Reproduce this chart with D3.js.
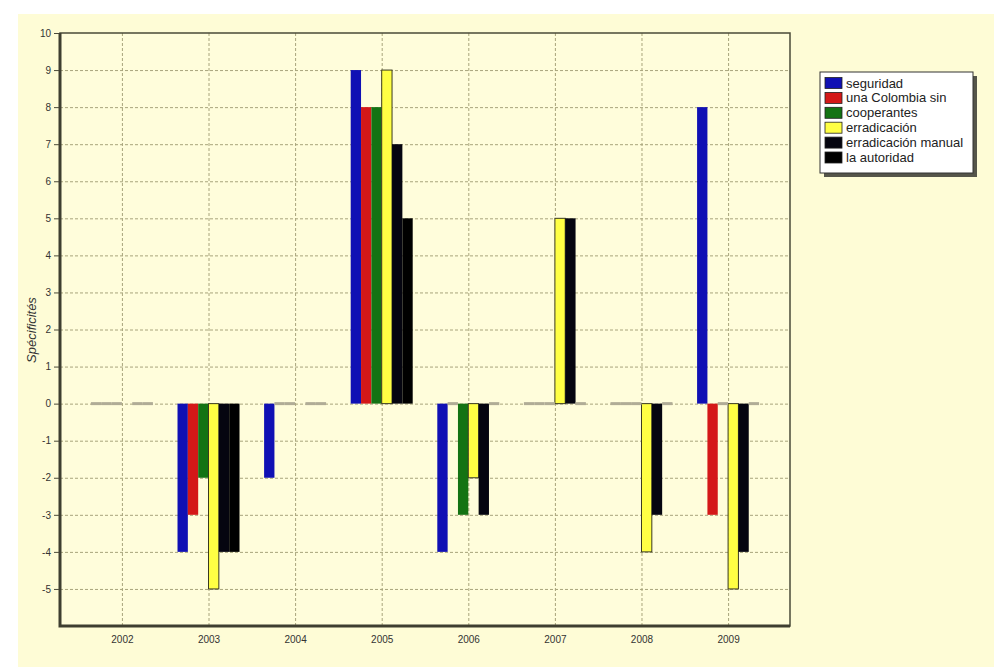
<!DOCTYPE html>
<html><head><meta charset="utf-8">
<script src="https://cdn.jsdelivr.net/npm/d3@7"></script>
<style>body{margin:0;background:#fff;} svg{display:block;font-family:"Liberation Sans",Arial,sans-serif;}</style>
</head><body><svg id="c" width="994" height="667"></svg>
<script>
const years = ["2002","2003","2004","2005","2006","2007","2008","2009"];
const seriesNames = ["seguridad","una Colombia sin","cooperantes","erradicación","erradicación manual","la autoridad"];
const seguridad          = [0,-4,-2,9,-4,0,0,8];
const unaColombiaSin     = [0,-3,0,8,0,0,0,-3];
const cooperantes        = [0,-2,0,8,-3,0,0,0];
const erradicacion       = [0,-5,0,9,-2,5,-4,-5];
const erradicacionManual = [0,-4,0,7,-3,5,-3,-4];
const laAutoridad        = [0,-4,0,5,0,0,0,0];
const yTicks = [-5,-4,-3,-2,-1,0,1,2,3,4,5,6,7,8,9,10];
const yLabel = "Spécificités";

const seriesValues = [seguridad,unaColombiaSin,cooperantes,erradicacion,erradicacionManual,laAutoridad];
const colors = ["#1010b4","#d41818","#137313","#ffff44","#050510","#000000"];

const svg = d3.select("#c");
const L=60,R=790,T=33,B=626;

svg.append("rect").attr("x",18).attr("y",14).attr("width",976).attr("height",653).attr("fill","#fefcd6");
svg.append("rect").attr("x",L).attr("y",T).attr("width",R-L).attr("height",B-T).attr("fill","#fffddb");

const x = d3.scalePoint().domain(years).range([L,R]).padding(0.715);
const xs = d3.scaleBand().domain(d3.range(6)).range([-31,31]);
const y = d3.scaleLinear().domain([-6,10]).range([B,T]);

// grid
const grid = svg.append("g").attr("stroke","#a8a47c").attr("stroke-width",1).attr("stroke-dasharray","3,2");
grid.selectAll(".h").data(yTicks.filter(t=>t<10)).join("line")
  .attr("x1",L).attr("x2",R).attr("y1",d=>y(d)+0.5).attr("y2",d=>y(d)+0.5);
grid.selectAll(".v").data(years).join("line")
  .attr("x1",d=>x(d)+0.5).attr("x2",d=>x(d)+0.5).attr("y1",T).attr("y2",B);

// bars
const data=[];
years.forEach((yr,i)=>seriesValues.forEach((s,j)=>data.push({yr,j,v:s[i]})));
const g = svg.append("g");
g.selectAll("rect").data(data.filter(d=>d.v!==0)).join("rect")
  .attr("x",d=>x(d.yr)+xs(d.j))
  .attr("width",xs.bandwidth())
  .attr("y",d=>Math.min(y(d.v),y(0)))
  .attr("height",d=>Math.abs(y(d.v)-y(0)))
  .attr("fill",d=>colors[d.j])
  .attr("stroke",d=>d.j===3?"#3a3a20":"none")
  .attr("stroke-width",1);
g.selectAll("line").data(data.filter(d=>d.v===0 && d.j!==3)).join("line")
  .attr("x1",d=>x(d.yr)+xs(d.j)).attr("x2",d=>x(d.yr)+xs(d.j)+xs.bandwidth())
  .attr("y1",y(0)).attr("y2",y(0))
  .attr("stroke","#b0ac96").attr("stroke-width",3);

// frame
svg.append("rect").attr("x",L).attr("y",T).attr("width",R-L).attr("height",B-T)
  .attr("fill","none").attr("stroke","#4a4a38").attr("stroke-width",1.5);
svg.append("path").attr("d",`M${L},${T} V${B} H${R}`).attr("fill","none").attr("stroke","#3e3e30").attr("stroke-width",3);

// y axis
const yAxis = d3.axisLeft(y).tickValues(yTicks).tickSize(5).tickPadding(3).tickFormat(d=>String(d));
const ya = svg.append("g").attr("transform",`translate(${L-1},0)`).call(yAxis);
ya.select(".domain").remove();
ya.selectAll("line").attr("stroke","#4a4a38");
ya.selectAll("text").attr("font-size",10).attr("fill","#333").attr("font-family","Liberation Sans, Arial, sans-serif");

// x axis
const xAxis = d3.axisBottom(x).tickSize(0).tickPadding(10);
const xa = svg.append("g").attr("transform",`translate(0,${B})`).call(xAxis);
xa.select(".domain").remove();
xa.selectAll("text").attr("font-size",10).attr("fill","#333").attr("font-family","Liberation Sans, Arial, sans-serif");

svg.append("text").attr("transform","translate(36,330) rotate(-90)").attr("text-anchor","middle")
  .attr("font-size",13).attr("font-style","italic").attr("fill","#333").text(yLabel);

// legend
const lg = svg.append("g");
lg.append("rect").attr("x",824).attr("y",76).attr("width",153).attr("height",101).attr("fill","#55554a");
lg.append("rect").attr("x",820).attr("y",72).attr("width",153).attr("height",101).attr("fill","#fff").attr("stroke","#333");
seriesNames.forEach((n,i)=>{
  const cy=83+i*14.9;
  lg.append("rect").attr("x",825).attr("y",cy-5.5).attr("width",17).attr("height",11)
    .attr("fill",colors[i]).attr("stroke","#222").attr("stroke-width",0.8);
  lg.append("text").attr("x",846).attr("y",cy+4.5).attr("font-size",13).attr("fill","#222").text(n);
});
</script></body></html>
